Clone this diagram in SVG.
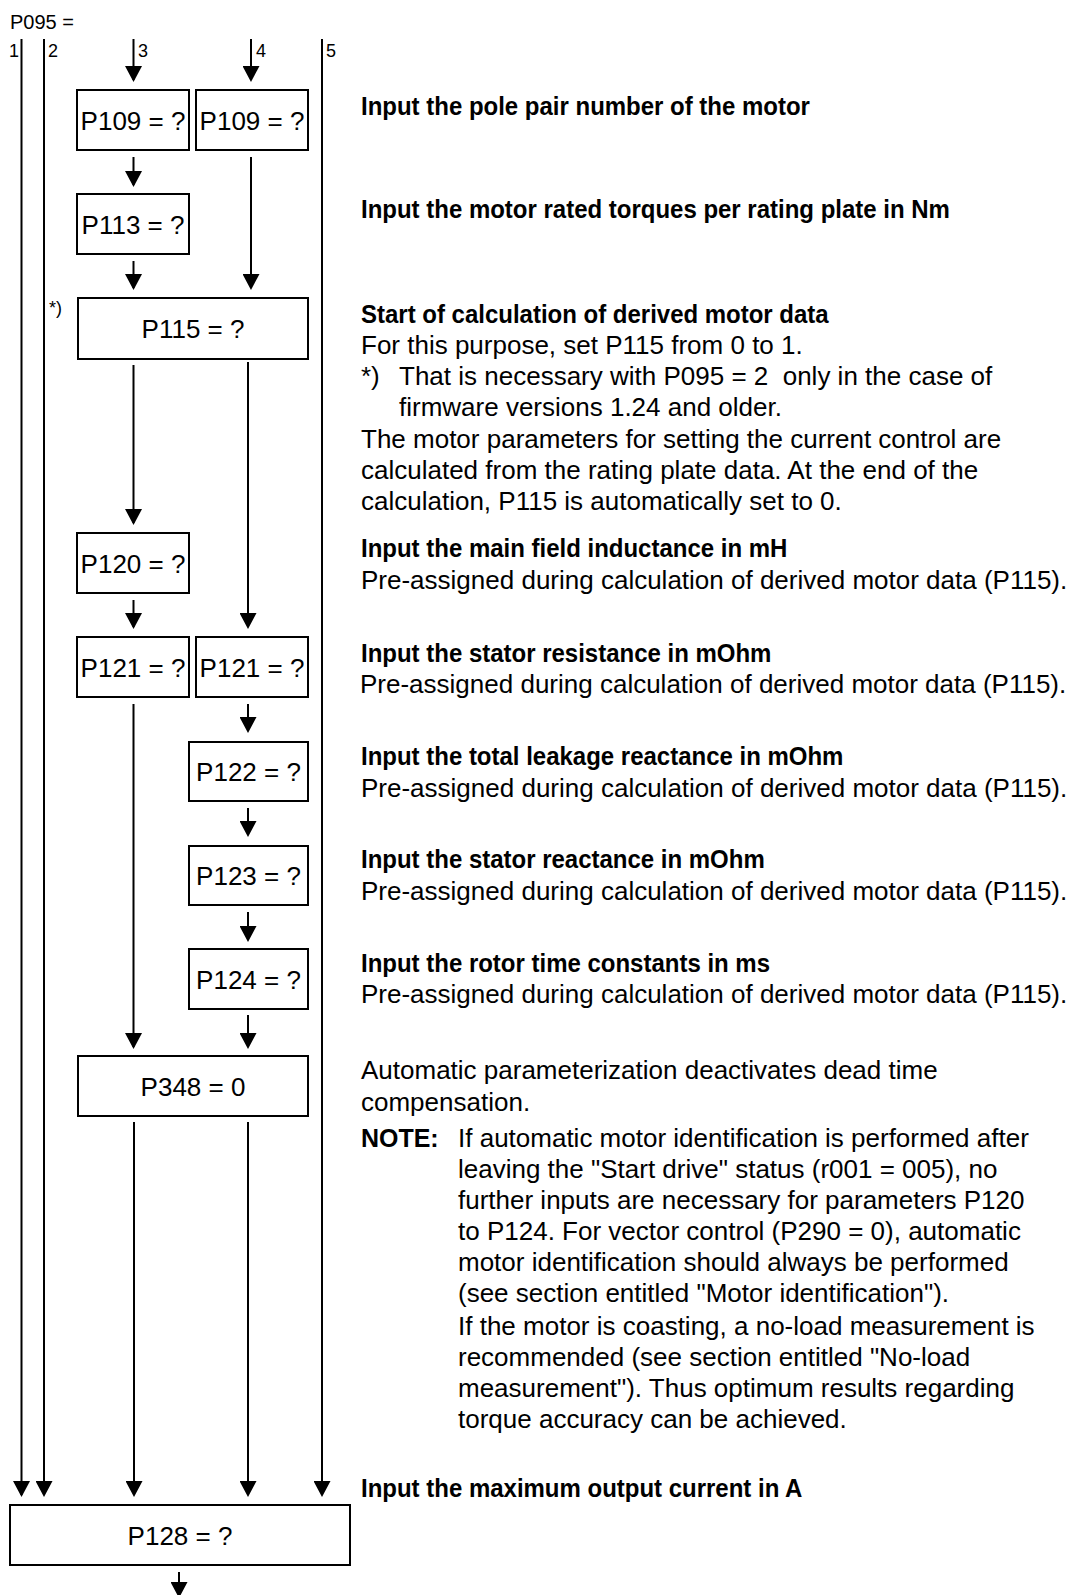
<svg xmlns="http://www.w3.org/2000/svg" width="1075" height="1595" viewBox="0 0 1075 1595">
  <style>
    text { font-family: "Liberation Sans", Arial, Helvetica, sans-serif; fill: #000; }
    .box { fill: #fff; stroke: #000; stroke-width: 2; }
    .bt { font-size: 26px; text-anchor: middle; }
    .lbl { font-size: 18px; }
    .t { font-size: 26px; }
    .h { font-size: 26px; font-weight: bold; }
    .wire { fill: none; stroke: #000; stroke-width: 2; }
  </style>
  <defs>
    <marker id="arr" viewBox="0 0 16 17" refX="14" refY="8.5" markerWidth="16" markerHeight="17" markerUnits="userSpaceOnUse" orient="auto">
      <path d="M0,0 L16,8.5 L0,17 z" fill="#000"/>
    </marker>
  </defs>

  <!-- selector header and column numbers -->
  <g id="header">
    <text x="10" y="29" style="font-size:20px">P095 =</text>
    <text class="lbl" x="9" y="57">1</text>
    <text class="lbl" x="48" y="57">2</text>
    <text class="lbl" x="138" y="57">3</text>
    <text class="lbl" x="256" y="57">4</text>
    <text class="lbl" x="326" y="57">5</text>
    <text x="49" y="314" style="font-size:18px">*)</text>
  </g>

  <!-- connectors -->
  <g id="connectors" class="wire">
    <line x1="21.5" y1="39" x2="21.5" y2="1495" marker-end="url(#arr)"/>
    <line x1="44" y1="39" x2="44" y2="1495" marker-end="url(#arr)"/>
    <line x1="322" y1="39" x2="322" y2="1495" marker-end="url(#arr)"/>
    <line x1="133.5" y1="39" x2="133.5" y2="80" marker-end="url(#arr)"/>
    <line x1="251" y1="39" x2="251" y2="80" marker-end="url(#arr)"/>
    <line x1="133.5" y1="157" x2="133.5" y2="185" marker-end="url(#arr)"/>
    <line x1="133.5" y1="261" x2="133.5" y2="288" marker-end="url(#arr)"/>
    <line x1="251" y1="157" x2="251" y2="288" marker-end="url(#arr)"/>
    <line x1="133.5" y1="365" x2="133.5" y2="523" marker-end="url(#arr)"/>
    <line x1="248" y1="362" x2="248" y2="627" marker-end="url(#arr)"/>
    <line x1="133.5" y1="600" x2="133.5" y2="627" marker-end="url(#arr)"/>
    <line x1="133.5" y1="704" x2="133.5" y2="1047" marker-end="url(#arr)"/>
    <line x1="248" y1="704" x2="248" y2="731" marker-end="url(#arr)"/>
    <line x1="248" y1="808" x2="248" y2="835" marker-end="url(#arr)"/>
    <line x1="248" y1="912" x2="248" y2="940" marker-end="url(#arr)"/>
    <line x1="248" y1="1015" x2="248" y2="1047" marker-end="url(#arr)"/>
    <line x1="134" y1="1122" x2="134" y2="1495" marker-end="url(#arr)"/>
    <line x1="248" y1="1122" x2="248" y2="1495" marker-end="url(#arr)"/>
    <line x1="179" y1="1572" x2="179" y2="1596" marker-end="url(#arr)"/>
  </g>

  <!-- parameter boxes -->
  <g id="p109a"><rect class="box" x="77" y="90" width="112" height="60"/><text class="bt" x="133" y="129.5">P109 = ?</text></g>
  <g id="p109b"><rect class="box" x="196" y="90" width="112" height="60"/><text class="bt" x="252" y="129.5">P109 = ?</text></g>
  <g id="p113"><rect class="box" x="77" y="194" width="112" height="60"/><text class="bt" x="133" y="233.5">P113 = ?</text></g>
  <g id="p115"><rect class="box" x="78" y="298" width="230" height="61"/><text class="bt" x="193" y="338">P115 = ?</text></g>
  <g id="p120"><rect class="box" x="77" y="533" width="112" height="60"/><text class="bt" x="133" y="572.5">P120 = ?</text></g>
  <g id="p121a"><rect class="box" x="77" y="637" width="112" height="60"/><text class="bt" x="133" y="676.5">P121 = ?</text></g>
  <g id="p121b"><rect class="box" x="196" y="637" width="112" height="60"/><text class="bt" x="252" y="676.5">P121 = ?</text></g>
  <g id="p122"><rect class="box" x="189" y="742" width="119" height="59"/><text class="bt" x="248.5" y="781">P122 = ?</text></g>
  <g id="p123"><rect class="box" x="189" y="846" width="119" height="59"/><text class="bt" x="248.5" y="885">P123 = ?</text></g>
  <g id="p124"><rect class="box" x="189" y="949" width="119" height="60"/><text class="bt" x="248.5" y="988.5">P124 = ?</text></g>
  <g id="p348"><rect class="box" x="78" y="1056" width="230" height="60"/><text class="bt" x="193" y="1095.5">P348 = 0</text></g>
  <g id="p128"><rect class="box" x="10" y="1505" width="340" height="60"/><text class="bt" x="180" y="1544.5">P128 = ?</text></g>

  <!-- explanations -->
  <g id="notes">
    <text class="h" transform="translate(361,115) scale(0.923,1)">Input the pole pair number of the motor</text>
    <text class="h" transform="translate(361,218) scale(0.923,1)">Input the motor rated torques per rating plate in Nm</text>

    <text class="h" transform="translate(361,323) scale(0.923,1)">Start of calculation of derived motor data</text>
    <text class="t" x="361" y="354">For this purpose, set P115 from 0 to 1.</text>
    <text class="t" x="361" y="385">*)</text>
    <text class="t" x="399" y="385">That is necessary with P095 = 2&#160; only in the case of</text>
    <text class="t" x="399" y="416">firmware versions 1.24 and older.</text>
    <text class="t" x="361" y="448">The motor parameters for setting the current control are</text>
    <text class="t" x="361" y="479">calculated from the rating plate data. At the end of the</text>
    <text class="t" x="361" y="510">calculation, P115 is automatically set to 0.</text>

    <text class="h" transform="translate(361,557) scale(0.923,1)">Input the main field inductance in mH</text>
    <text class="t" x="361" y="589">Pre-assigned during calculation of derived motor data (P115).</text>
    <text class="h" transform="translate(361,662) scale(0.923,1)">Input the stator resistance in mOhm</text>
    <text class="t" x="360" y="693">Pre-assigned during calculation of derived motor data (P115).</text>
    <text class="h" transform="translate(361,765) scale(0.923,1)">Input the total leakage reactance in mOhm</text>
    <text class="t" x="361" y="797">Pre-assigned during calculation of derived motor data (P115).</text>
    <text class="h" transform="translate(361,868) scale(0.923,1)">Input the stator reactance in mOhm</text>
    <text class="t" x="361" y="900">Pre-assigned during calculation of derived motor data (P115).</text>
    <text class="h" transform="translate(361,972) scale(0.923,1)">Input the rotor time constants in ms</text>
    <text class="t" x="361" y="1003">Pre-assigned during calculation of derived motor data (P115).</text>

    <text class="t" x="361" y="1079">Automatic parameterization deactivates dead time</text>
    <text class="t" x="361" y="1111">compensation.</text>
    <text class="h" transform="translate(361,1147) scale(0.96,1)">NOTE:</text>
    <text class="t" x="458" y="1147">If automatic motor identification is performed after</text>
    <text class="t" x="458" y="1178">leaving the "Start drive" status (r001 = 005), no</text>
    <text class="t" x="458" y="1209">further inputs are necessary for parameters P120</text>
    <text class="t" x="458" y="1240">to P124. For vector control (P290 = 0), automatic</text>
    <text class="t" x="458" y="1271">motor identification should always be performed</text>
    <text class="t" x="458" y="1302">(see section entitled "Motor identification").</text>
    <text class="t" x="458" y="1335">If the motor is coasting, a no-load measurement is</text>
    <text class="t" x="458" y="1366">recommended (see section entitled "No-load</text>
    <text class="t" x="458" y="1397">measurement"). Thus optimum results regarding</text>
    <text class="t" x="458" y="1428">torque accuracy can be achieved.</text>

    <text class="h" transform="translate(361,1497) scale(0.923,1)">Input the maximum output current in A</text>
  </g>
</svg>
